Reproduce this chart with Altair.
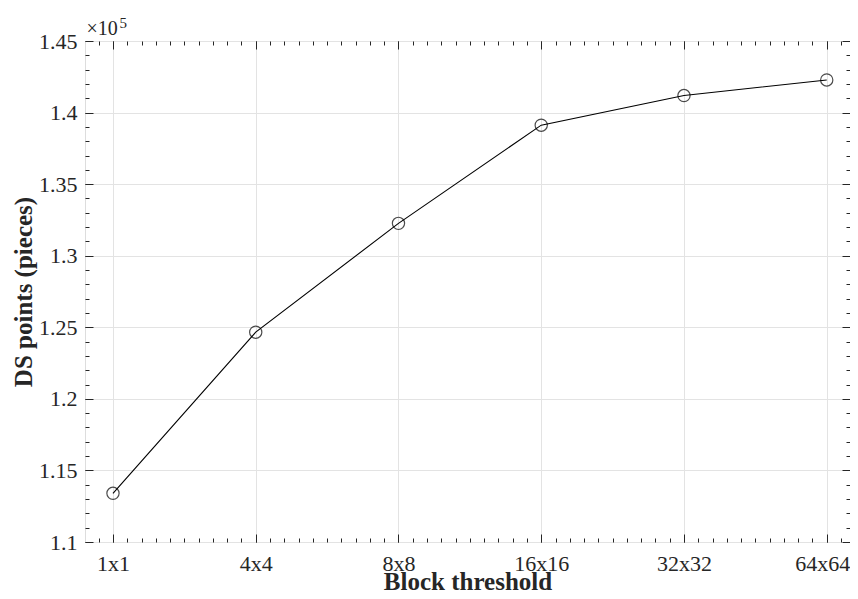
import json
import altair as alt
import pandas as pd

# ---- data ----
categories = ["1x1", "4x4", "8x8", "16x16", "32x32", "64x64"]
positions = [1, 2, 3, 4, 5, 6]
ds_points = [113400, 124660, 132260, 139120, 141190, 142280]

# ---- axis tick values ----
x_major = [1, 2, 3, 4, 5, 6]
x_minor = [round(0.9 + 0.1 * i, 1) for i in range(0, 53)]
y_major = [110000, 115000, 120000, 125000, 130000, 135000, 140000, 145000]
y_minor = [110000 + 1000 * i for i in range(0, 36)]

df = pd.DataFrame({"pos": positions, "cat": categories, "val": ds_points})

FONT = "Liberation Serif"
INK = "#262626"
W, H = 765, 501

label_expr = "%s[datum.value - 1]" % json.dumps(categories)

x_scale = alt.Scale(domain=[0.804, 6.163], nice=False, zero=False)
y_scale = alt.Scale(domain=[110000, 145000], nice=False, zero=False)


def tick_axis(orient, values, size, **extra):
    return alt.Axis(orient=orient, values=values, labels=False, grid=False,
                    domain=False, ticks=True, tickSize=size, offset=-size,
                    tickColor=INK, tickWidth=1, **extra)


base = alt.Chart(df)

line = base.mark_line(color="black", strokeWidth=1.1).encode(
    x=alt.X("pos:Q", scale=x_scale,
            axis=alt.Axis(orient="bottom", values=x_major, labelExpr=label_expr,
                          grid=True, gridColor="#e3e3e3", gridWidth=1,
                          ticks=False, tickSize=0, domain=False,
                          labelFont=FONT, labelFontSize=22, labelColor=INK,
                          labelPadding=11, labelFlush=25, labelFlushOffset=23,
                          title="Block threshold",
                          titleFont=FONT, titleFontSize=25, titleFontWeight="bold",
                          titleColor=INK, titlePadding=-5)),
    y=alt.Y("val:Q", scale=y_scale,
            axis=alt.Axis(orient="left", values=y_major,
                          labelExpr="format(datum.value / 100000, '.3~f')",
                          grid=True, gridColor="#e3e3e3", gridWidth=1,
                          ticks=False, tickSize=0, domain=False,
                          labelFont=FONT, labelFontSize=22, labelColor=INK,
                          labelPadding=8, title="DS points (pieces)",
                          titleFont=FONT, titleFontSize=25, titleFontWeight="bold",
                          titleColor=INK, titlePadding=2)),
)

points = base.mark_point(shape="circle", filled=False, color="black",
                         size=150, strokeWidth=1.2).encode(
    x=alt.X("pos:Q", scale=x_scale, axis=tick_axis("bottom", x_major, 8, title=None)),
    y=alt.Y("val:Q", scale=y_scale, axis=tick_axis("left", y_major, 8, title=None)),
)

ghost1 = base.mark_point(opacity=0).encode(
    x=alt.X("pos:Q", scale=x_scale, axis=tick_axis("bottom", x_minor, 4, title=None)),
    y=alt.Y("val:Q", scale=y_scale, axis=tick_axis("left", y_minor, 4, title=None)),
)
ghost2 = base.mark_point(opacity=0).encode(
    x=alt.X("pos:Q", scale=x_scale,
            axis=tick_axis("top", x_major, 8, title="×10",
                           titleFont=FONT, titleFontSize=20, titleFontWeight="normal",
                           titleColor=INK, titleAlign="left", titleAngle=0,
                           titleBaseline="alphabetic", titleX=1, titleY=-15)),
    y=alt.Y("val:Q", scale=y_scale, axis=tick_axis("right", y_major, 8, title=None)),
)
ghost3 = base.mark_point(opacity=0).encode(
    x=alt.X("pos:Q", scale=x_scale,
            axis=tick_axis("top", x_minor, 4, title="5",
                           titleFont=FONT, titleFontSize=15, titleFontWeight="normal",
                           titleColor=INK, titleAlign="left", titleAngle=0,
                           titleBaseline="alphabetic", titleX=34, titleY=-18)),
    y=alt.Y("val:Q", scale=y_scale, axis=tick_axis("right", y_minor, 4, title=None)),
)

chart = alt.layer(line, points, ghost1, ghost2, ghost3).resolve_axis(
    x="independent", y="independent"
).properties(
    width=W, height=H,
    autosize=alt.AutoSizeParams(type="none"),
    padding={"left": 77, "top": 33, "right": 0, "bottom": 49},
).configure_view(stroke=INK, strokeWidth=1).configure(background="white")

chart.save("out.html", embed_options={"renderer": "svg", "actions": False})
